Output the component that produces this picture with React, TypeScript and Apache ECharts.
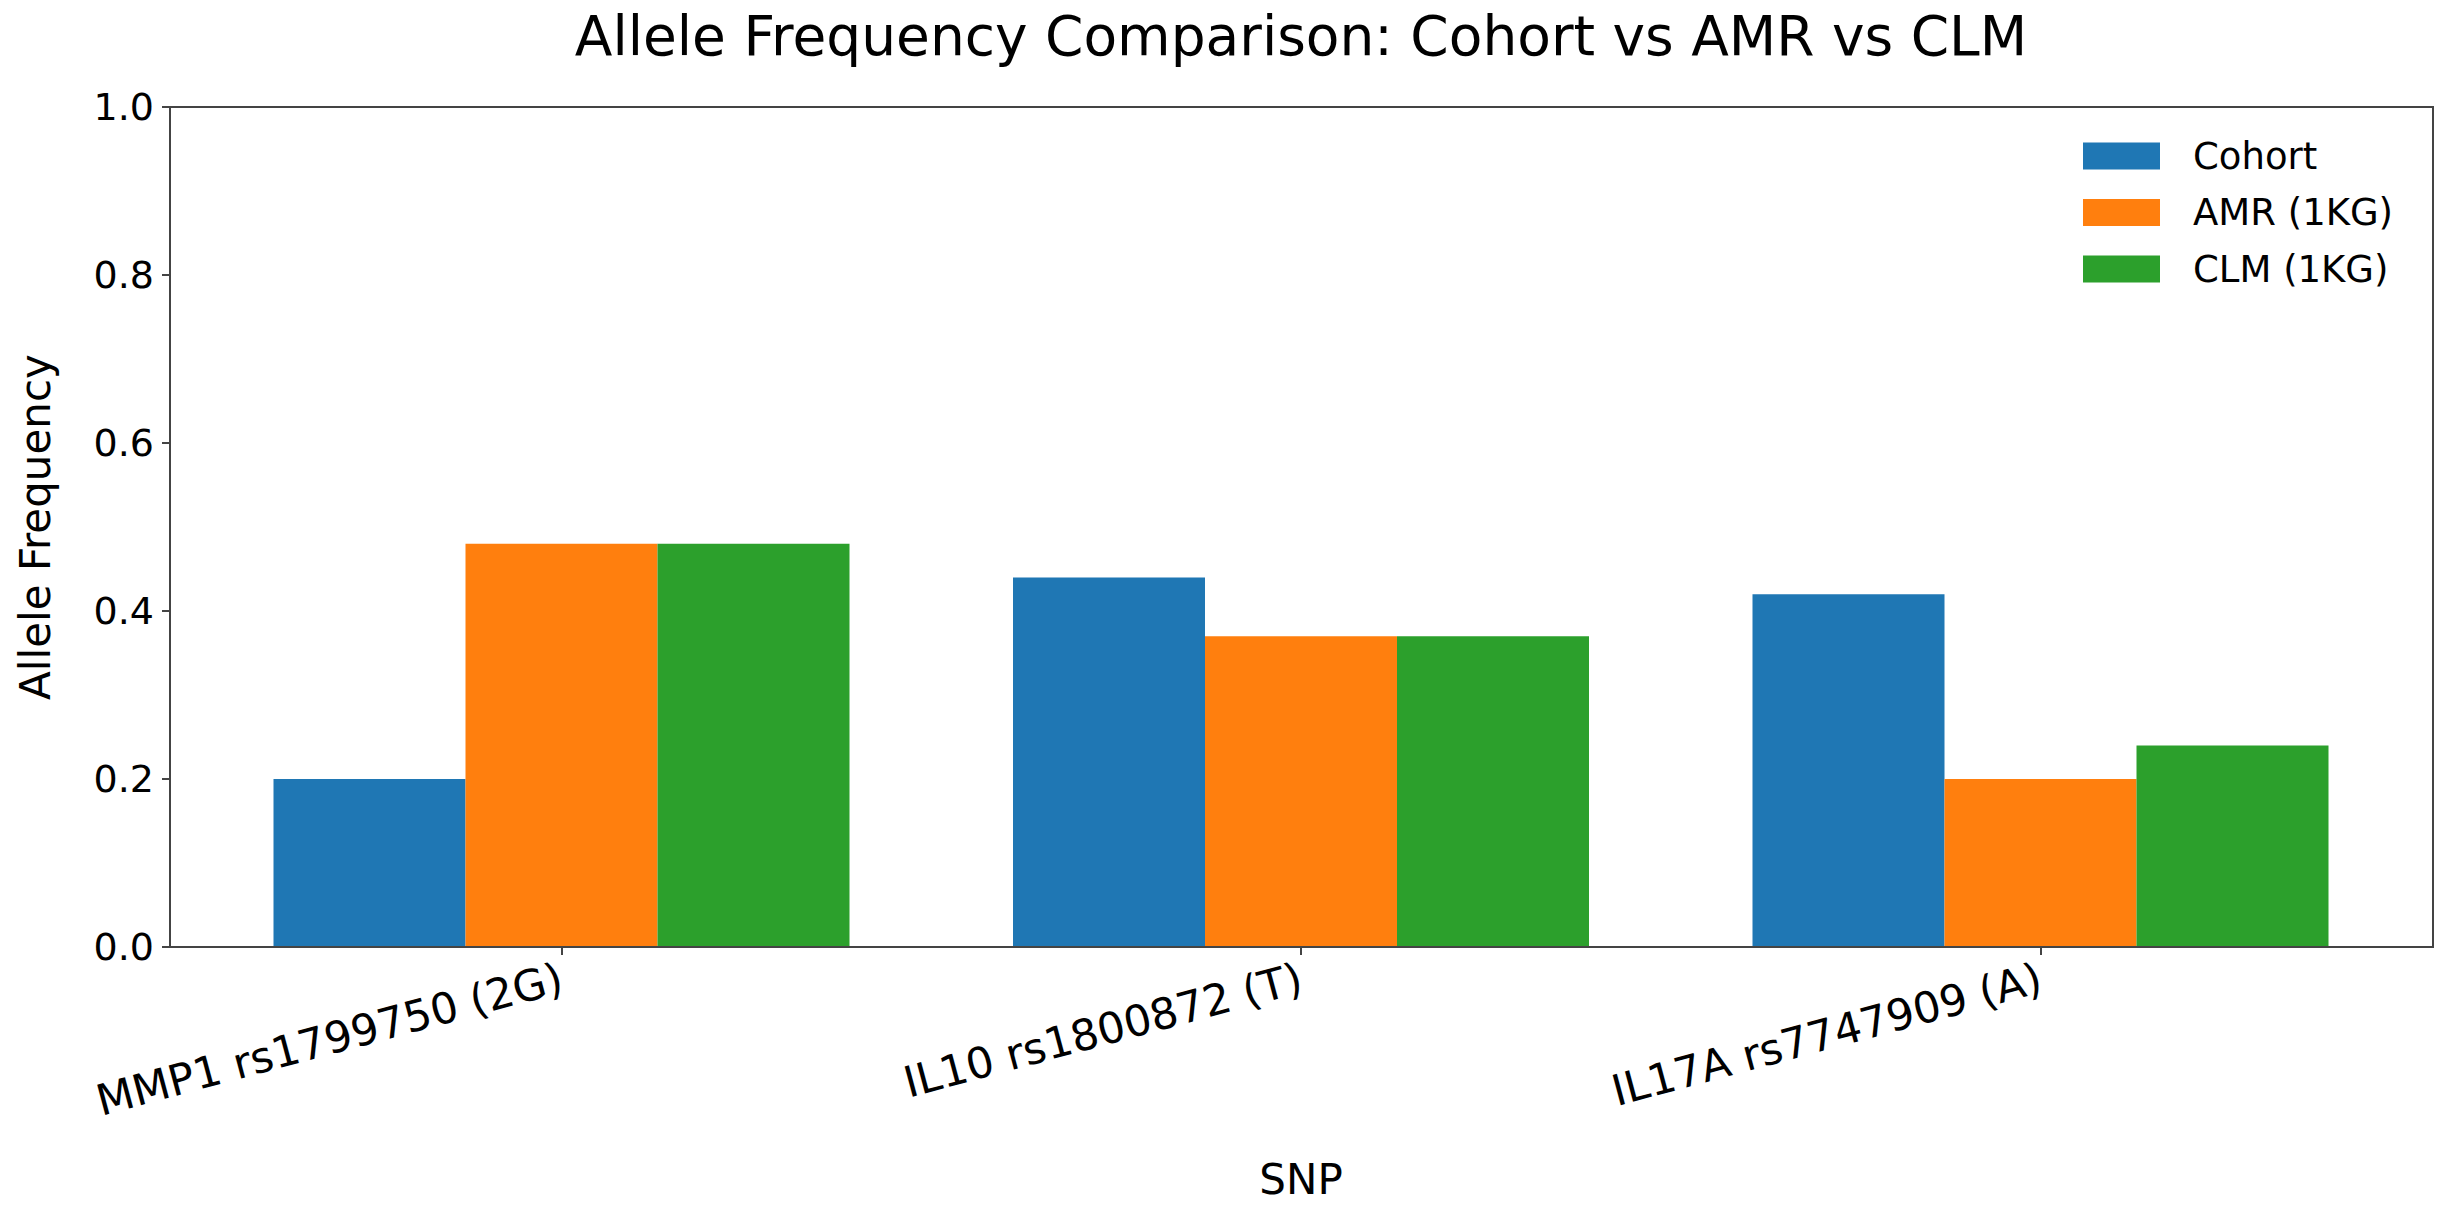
import React, { useEffect, useRef } from "react";
import * as echarts from "echarts";

const snps = ["MMP1 rs1799750 (2G)", "IL10 rs1800872 (T)", "IL17A rs7747909 (A)"];
const cohort = [0.2, 0.44, 0.42];
const amr = [0.48, 0.37, 0.2];
const clm = [0.48, 0.37, 0.24];
const seriesNames = ["Cohort", "AMR (1KG)", "CLM (1KG)"];
const colors = ["#1f77b4", "#ff7f0e", "#2ca02c"];
const title = "Allele Frequency Comparison: Cohort vs AMR vs CLM";
const xTitle = "SNP";
const yTitle = "Allele Frequency";

const FONT = "DejaVu Sans";
const AXIS = "#444";

export default function App() {
  const ref = useRef<HTMLDivElement>(null);
  useEffect(() => {
    if (!ref.current) return;
    const chart = echarts.init(ref.current, undefined, { renderer: "svg" });
    const values = [cohort, amr, clm];
    chart.setOption({
      animation: false,
      backgroundColor: "#ffffff",
      textStyle: { fontFamily: FONT },
      title: {
        text: title,
        left: 1301,
        textAlign: "center",
        top: 8,
        padding: 0,
        textStyle: { fontFamily: FONT, fontSize: 55, fontWeight: "normal", color: "#000" },
      },
      legend: {
        orient: "vertical",
        left: 2083,
        top: 137,
        padding: 0,
        itemWidth: 77,
        itemHeight: 27,
        itemGap: 18.5,
        icon: "rect",
        data: seriesNames,
        textStyle: {
          fontFamily: FONT,
          fontSize: 37,
          color: "#000",
          lineHeight: 38,
          padding: [0, 0, 0, 28],
        },
      },
      grid: [
        { left: 170, top: 107, width: 2263, height: 840, show: true, borderColor: AXIS, borderWidth: 2, backgroundColor: "transparent", z: 10 },
        { left: 191.75, top: 107, width: 2218.5, height: 840, show: false },
      ],
      xAxis: [
        { gridIndex: 0, type: "value", min: 0, max: 1, show: false },
        {
          gridIndex: 1,
          type: "category",
          data: snps,
          name: xTitle,
          nameLocation: "middle",
          nameGap: 211,
          nameTextStyle: { fontFamily: FONT, fontSize: 42, color: "#000" },
          axisLine: { show: false },
          axisTick: { show: true, alignWithLabel: true, length: 8, lineStyle: { color: AXIS, width: 2 } },
          axisLabel: {
            interval: 0,
            rotate: 15,
            margin: 30,
            fontFamily: FONT,
            fontSize: 43,
            color: "#000",
          },
          splitLine: { show: false },
        },
      ],
      yAxis: [
        {
          gridIndex: 0,
          type: "value",
          min: 0,
          max: 1,
          interval: 0.2,
          name: yTitle,
          nameLocation: "middle",
          nameRotate: 90,
          nameGap: 114,
          nameTextStyle: { fontFamily: FONT, fontSize: 42, color: "#000" },
          axisLine: { show: true, lineStyle: { color: AXIS, width: 2 } },
          axisTick: { show: true, length: 8, lineStyle: { color: AXIS, width: 2 } },
          axisLabel: {
            margin: 16,
            fontFamily: FONT,
            fontSize: 38,
            color: "#000",
            formatter: (v: number) => v.toFixed(1),
          },
          splitLine: { show: false },
        },
        { gridIndex: 1, type: "value", min: 0, max: 1, show: false },
      ],
      series: seriesNames.map((name, i) => ({
        name,
        type: "bar",
        xAxisIndex: 1,
        yAxisIndex: 1,
        data: values[i],
        barWidth: 192,
        barGap: "0%",
        itemStyle: { color: colors[i] },
      })),
    });
    return () => chart.dispose();
  }, []);
  return (
    <div
      ref={ref}
      style={{ position: "absolute", left: 0, top: 0, width: 2451, height: 1210 }}
    />
  );
}
